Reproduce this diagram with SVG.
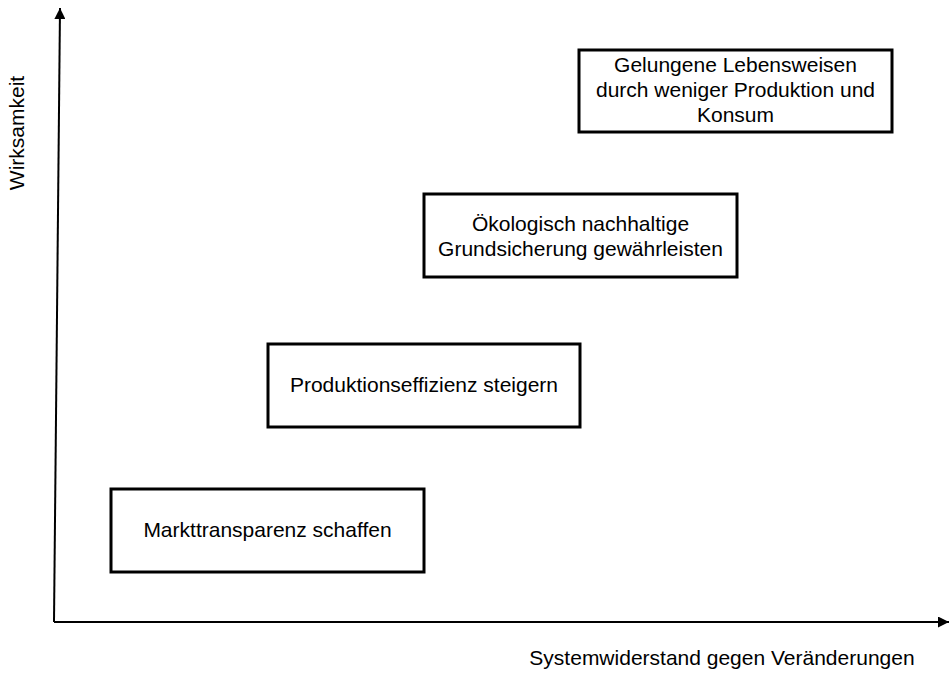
<svg xmlns="http://www.w3.org/2000/svg" width="949" height="673" viewBox="0 0 949 673">
<style>
.box{fill:#fff;stroke:#000;stroke-width:3}
.t{font-family:"Liberation Sans",Arial,sans-serif;font-size:21px;fill:#000;text-anchor:middle}
.ax{stroke:#000;stroke-width:2;fill:none}
.lbl{font-family:"Liberation Sans",Arial,sans-serif;font-size:21px;fill:#000;text-anchor:middle}
</style>
<defs>
<marker id="ah" viewBox="0 0 10 10" refX="10" refY="5" markerWidth="5.5" markerHeight="5.5" orient="auto" markerUnits="strokeWidth">
<path d="M0,0 L10,5 L0,10 z" fill="#000"/>
</marker>
</defs>
<rect width="949" height="673" fill="#fff"/>
<g id="connectors">
<path class="ax" d="M54,622 L60,8" marker-end="url(#ah)"/>
<path class="ax" d="M54,622 L949,622" marker-end="url(#ah)"/>
</g>
<g id="label-y"><text class="lbl" transform="translate(24,133) rotate(-90)">Wirksamkeit</text></g>
<g id="label-x"><text class="lbl" x="722" y="665">Systemwiderstand gegen Veränderungen</text></g>
<g id="n1">
<rect class="box" x="111" y="489" width="313" height="83"/>
<text class="t" x="267.5" y="537">Markttransparenz schaffen</text>
</g>
<g id="n2">
<rect class="box" x="268" y="344" width="312" height="83"/>
<text class="t" x="424" y="392">Produktionseffizienz steigern</text>
</g>
<g id="n3">
<rect class="box" x="424" y="194" width="313" height="83"/>
<text class="t" x="580.5" y="231">Ökologisch nachhaltige</text>
<text class="t" x="580.5" y="256">Grundsicherung gewährleisten</text>
</g>
<g id="n4">
<rect class="box" x="579" y="50" width="313" height="82"/>
<text class="t" x="735.5" y="72">Gelungene Lebensweisen</text>
<text class="t" x="735.5" y="97">durch weniger Produktion und</text>
<text class="t" x="735.5" y="122">Konsum</text>
</g>
</svg>
